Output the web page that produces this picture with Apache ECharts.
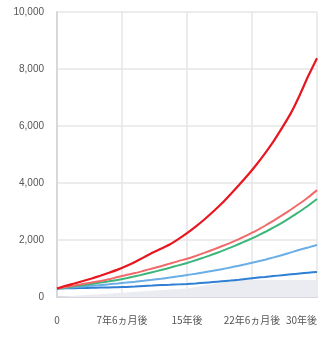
<!DOCTYPE html>
<html>
<head>
<meta charset="utf-8">
<script src="https://cdn.jsdelivr.net/npm/echarts@6/dist/echarts.min.js"></script>
<style>
  html, body { margin: 0; padding: 0; background: #fff; }
  #chart { width: 331px; height: 338px; }
</style>
</head>
<body>
<div id="chart"></div>
<script>
// years 0..30
const years = [0,1,2,3,4,5,6,7,8,9,10,11,12,13,14,15,16,17,18,19,20,21,22,23,24,25,26,27,28,29,30]
const tickLabels = { 0: '0', 7.5: '7年6ヵ月後', 15: '15年後', 22.5: '22年6ヵ月後', 30: '30年後' }

const redVals = [300,395,475,560,650,745,850,960,1090,1230,1390,1550,1690,1840,2030,2240,2470,2720,2990,3280,3600,3930,4270,4640,5040,5470,5950,6460,7080,7760,8380]
const salmonVals = [300,350,400,455,510,565,625,700,770,840,920,1000,1080,1170,1260,1340,1440,1550,1660,1780,1900,2030,2180,2330,2500,2680,2870,3070,3280,3500,3750]
const greenVals = [300,335,375,415,460,505,550,600,660,725,795,870,945,1025,1110,1195,1290,1390,1500,1610,1730,1860,1990,2130,2280,2440,2610,2800,3000,3210,3440]
const lightBlueVals = [300,322,345,370,395,420,447,475,505,537,570,605,642,682,725,770,818,868,920,975,1035,1100,1165,1235,1310,1390,1475,1565,1660,1740,1825]
const blueVals = [300,305,311,317,323,330,337,345,355,368,385,400,418,430,443,457,475,500,525,550,575,605,640,675,705,735,765,795,825,855,880]
const grayVals = [0,20,40,60,80,100,120,140,160,180,200,220,240,260,280,300,350,400,450,500,550,600,600,600,600,600,600,600,600,600,600]

const pairs = arr => years.map((y, i) => [y, arr[i]])

const chart = echarts.init(document.getElementById('chart'))

const lineSeries = (name, data, color, width) => ({
  name: name,
  type: 'line',
  data: pairs(data),
  symbol: 'none',
  smooth: 0.2,
  lineStyle: { color: color, width: width },
  itemStyle: { color: color },
  z: 3
})

chart.setOption({
  animation: false,
  grid: {
    left: 57,
    right: 14,
    top: 12,
    bottom: 41
  },
  xAxis: {
    type: 'value',
    min: 0,
    max: 30,
    interval: 7.5,
    axisLine: { show: true, lineStyle: { color: '#d6d8de', width: 2 } },
    axisTick: { show: false },
    splitLine: { show: true, lineStyle: { color: '#e6e6e6', width: 1.5 } },
    axisLabel: {
      color: '#555',
      fontSize: 10,
      fontFamily: 'Noto Sans CJK JP',
      margin: 18,
      alignMaxLabel: 'right',
      formatter: v => tickLabels[v] !== undefined ? tickLabels[v] : ''
    }
  },
  yAxis: {
    type: 'value',
    min: 0,
    max: 10000,
    interval: 2000,
    axisLine: { show: true, lineStyle: { color: '#d6d8de', width: 2 } },
    axisTick: { show: false },
    splitLine: { show: true, lineStyle: { color: '#e6e6e6', width: 1.5 } },
    axisLabel: {
      color: '#555',
      fontSize: 10,
      fontFamily: 'Liberation Sans',
      margin: 13,
      formatter: v => v.toLocaleString('en-US')
    }
  },
  series: [
    {
      name: '元本',
      type: 'line',
      data: pairs(grayVals),
      symbol: 'none',
      lineStyle: { width: 0 },
      areaStyle: { color: '#eaecf2', opacity: 1 },
      z: 1
    },
    lineSeries('blue', blueVals, '#2f7fd3', 2),
    lineSeries('lightblue', lightBlueVals, '#6aaee6', 2),
    lineSeries('green', greenVals, '#3db57b', 2),
    lineSeries('salmon', salmonVals, '#f06a6a', 2),
    lineSeries('red', redVals, '#e8161e', 2.2)
  ]
})
</script>
</body>
</html>
